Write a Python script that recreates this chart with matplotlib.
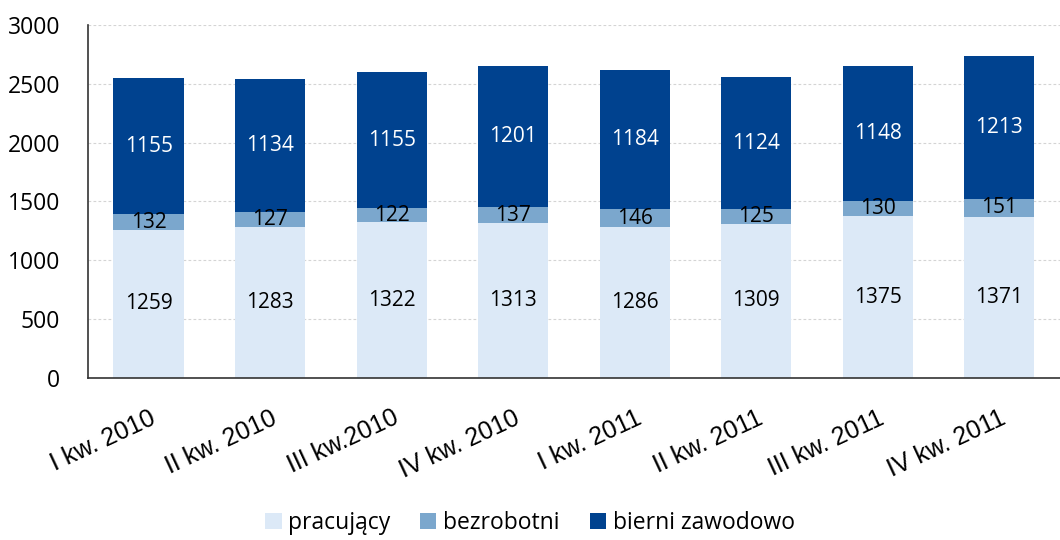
import matplotlib
matplotlib.use('Agg')
import matplotlib.pyplot as plt
import numpy as np

quarters = ['I kw. 2010', 'II kw. 2010', 'III kw.2010', 'IV kw. 2010',
            'I kw. 2011', 'II kw. 2011', 'III kw. 2011', 'IV kw. 2011']
pracujacy = [1259, 1283, 1322, 1313, 1286, 1309, 1375, 1371]
bezrobotni = [132, 127, 122, 137, 146, 125, 130, 151]
bierni = [1155, 1134, 1155, 1201, 1184, 1124, 1148, 1213]

c_prac = '#dce9f7'
c_bezr = '#7ba7cd'
c_bier = '#00428f'
num_font = 'Open Sans'

fig = plt.figure(figsize=(10.6, 5.4), dpi=100)
ax = fig.add_axes([0.083, 0.30, 0.917, 0.654])

x = np.arange(len(quarters))
w = 0.58
b1 = ax.bar(x, pracujacy, w, color=c_prac, label='pracujący', zorder=2)
b2 = ax.bar(x, bezrobotni, w, bottom=pracujacy, color=c_bezr, label='bezrobotni', zorder=2)
bottom3 = np.array(pracujacy) + np.array(bezrobotni)
b3 = ax.bar(x, bierni, w, bottom=bottom3, color=c_bier, label='bierni zawodowo', zorder=2)

for i in range(len(quarters)):
    ax.text(x[i], pracujacy[i] / 2, str(pracujacy[i]), ha='center', va='center',
            fontsize=15, family=num_font, color='black', zorder=3)
    ax.text(x[i], pracujacy[i] + bezrobotni[i] / 2, str(bezrobotni[i]), ha='center', va='center',
            fontsize=15, family=num_font, color='black', zorder=3)
    ax.text(x[i], bottom3[i] + bierni[i] / 2, str(bierni[i]), ha='center', va='center',
            fontsize=15, family=num_font, color='white', zorder=3)

ax.set_ylim(0, 3000)
ax.set_xlim(-0.5, len(quarters) - 0.5)
ax.set_yticks(range(0, 3001, 500))
ax.yaxis.grid(True, linestyle=(0, (2.5, 2)), color='#d4d4d4', linewidth=0.8, zorder=0)
ax.set_axisbelow(True)
for s in ['top', 'right']:
    ax.spines[s].set_visible(False)
ax.spines['left'].set_color('#333333')
ax.spines['bottom'].set_color('#333333')
ax.spines['left'].set_linewidth(1.2)
ax.spines['bottom'].set_linewidth(1.2)
ax.tick_params(axis='both', length=0)
ax.tick_params(axis='y', pad=20)
for lab in ax.get_yticklabels():
    lab.set_family(num_font)
    lab.set_fontsize(16.5)
ax.set_xticks(x)
ax.set_xticklabels(quarters, rotation=25, ha='right', rotation_mode='anchor',
                   family='Liberation Sans', fontsize=18)
ax.tick_params(axis='x', pad=20)

fig.legend(handles=[b1, b2, b3], loc='center', bbox_to_anchor=(0.5, 0.032), ncol=3,
           frameon=False, prop={'family': num_font, 'size': 16.5},
           handlelength=0.7, handleheight=0.7, handletextpad=0.3, columnspacing=1.3)

fig.savefig('out.png', dpi=100)
